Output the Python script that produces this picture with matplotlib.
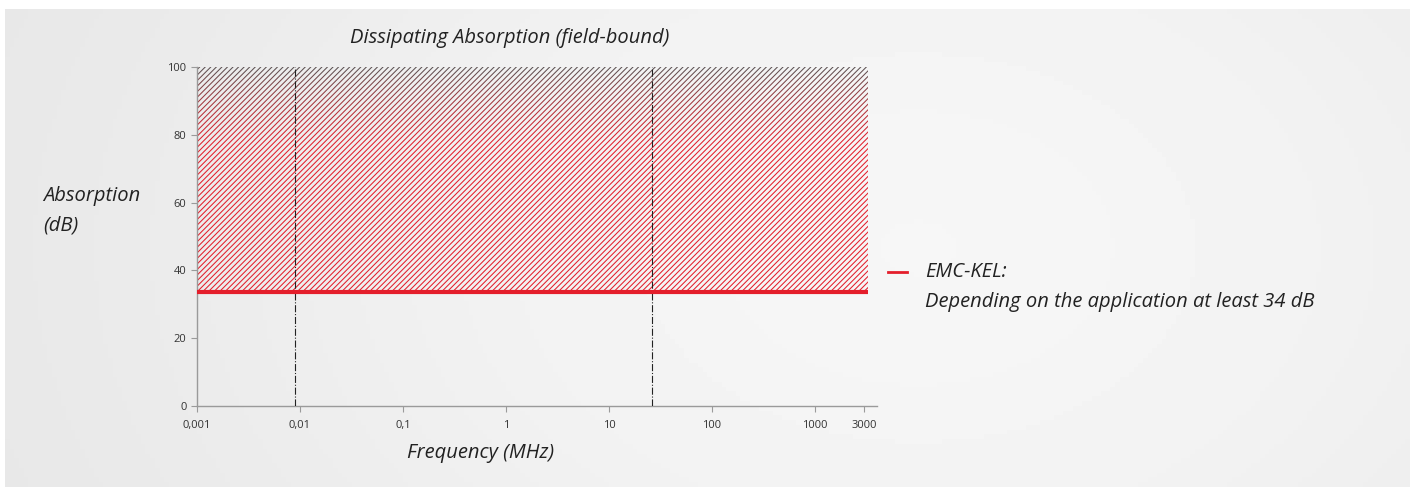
import matplotlib.pyplot as plt
import numpy as np
from matplotlib.colors import to_rgb

plt.rcParams['font.family'] = ['Open Sans', 'DejaVu Sans']
plt.rcParams['hatch.linewidth'] = 0.75

# data
freq_ticks = [0.001, 0.01, 0.1, 1, 10, 100, 1000, 3000]
freq_labels = ['0,001', '0,01', '0,1', '1', '10', '100', '1000', '3000']
db_ticks = [0, 20, 40, 60, 80, 100]
band_limits = [0.009, 26]          # dash-dot markers (MHz)
emc_kel_db = 33.5                  # EMC-KEL absorption line
freq_range = [0.001, 3300]

red = '#e41e2b'
gray = '#555555'

fig = plt.figure(figsize=(14.16, 4.91), dpi=100, facecolor='white')

# background panel with soft gradient
bg = fig.add_axes([5/1416, 4/491, 1405/1416, 478/491], zorder=-10)
gx = np.linspace(0, 1, 300)
gy = np.linspace(0, 1, 100)
X, Y = np.meshgrid(gx, gy)
grad = 0.89 + 0.075 * np.exp(-((X - 0.65) ** 2) / 0.35 - ((Y - 0.5) ** 2) / 1.5)
bg.imshow(grad, cmap='gray', vmin=0, vmax=1, aspect='auto', extent=[0, 1, 0, 1])
bg.axis('off')

ax = fig.add_axes([197/1416, 85/491, 680/1416, 339/491])
ax.set_facecolor('none')
ax.set_xscale('log')
ax.set_xlim(0.001, 4000)
ax.set_ylim(0, 100)

# hatched area, hatch colour fading from red to gray near the top
levels = np.linspace(emc_kel_db, 100, 68)
for lo, hi in zip(levels[:-1], levels[1:]):
    t = np.clip((lo - 76) / 24, 0, 1) ** 1.3
    c = (1 - t) * np.array(to_rgb(red)) + t * np.array(to_rgb(gray))
    ax.fill_between(freq_range, lo, hi, facecolor='none', edgecolor=c,
                    hatch='/' * 6, linewidth=0)

ax.plot(freq_range, [emc_kel_db, emc_kel_db], color=red, lw=3, solid_capstyle='butt', zorder=5)

for f in band_limits:
    ax.axvline(f, color='#222222', lw=0.8, ls='-.', zorder=4)

for s in ['top', 'right']:
    ax.spines[s].set_visible(False)
for s in ['left', 'bottom']:
    ax.spines[s].set_color('#9a9a9a')
    ax.spines[s].set_linewidth(1)

ax.set_xticks(freq_ticks)
ax.set_xticklabels(freq_labels)
ax.xaxis.set_minor_locator(plt.NullLocator())
ax.set_yticks(db_ticks)
ax.tick_params(colors='#9a9a9a', labelcolor='#333333', labelsize=8, length=4, width=0.8)
ax.tick_params(axis='x', pad=6)

fs = 14.5
fig.text(510/1416, 1 - 38/491, 'Dissipating Absorption (field-bound)', ha='center', va='center',
         fontsize=fs, style='italic', color='#222222')
fig.text(481/1416, 1 - 453/491, 'Frequency (MHz)', ha='center', va='center',
         fontsize=fs, style='italic', color='#222222')
fig.text(43/1416, 1 - 196/491, 'Absorption', ha='left', va='center',
         fontsize=fs, style='italic', color='#222222')
fig.text(43/1416, 1 - 226/491, '(dB)', ha='left', va='center',
         fontsize=fs, style='italic', color='#222222')

fig.add_artist(plt.Line2D([888/1416, 907/1416], [1 - 272/491, 1 - 272/491], color=red, lw=2))
fig.text(925/1416, 1 - 272/491, 'EMC-KEL:', ha='left', va='center',
         fontsize=fs, style='italic', color='#222222')
fig.text(925/1416, 1 - 302/491, 'Depending on the application at least 34 dB', ha='left', va='center',
         fontsize=fs, style='italic', color='#222222')

plt.savefig('out.png', dpi=100, facecolor='white')
